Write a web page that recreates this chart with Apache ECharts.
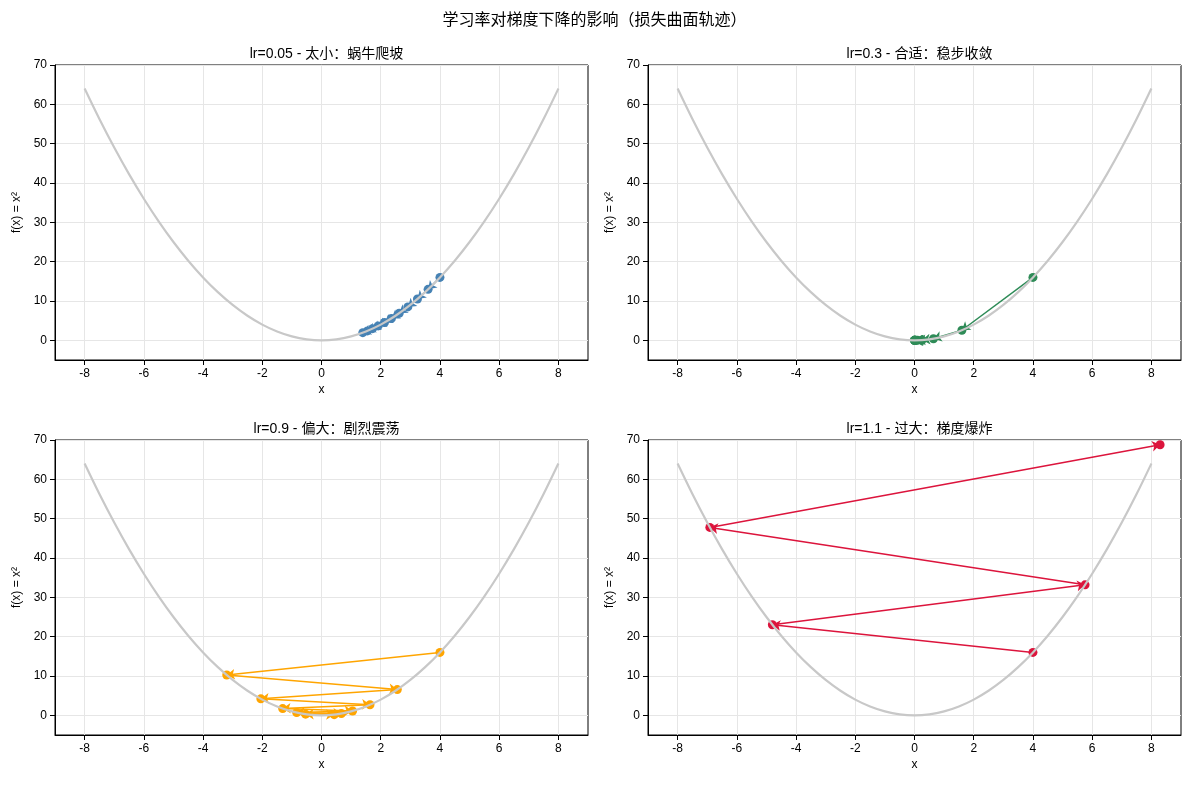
<!DOCTYPE html><html><head><meta charset="utf-8"><script src="https://cdn.jsdelivr.net/npm/echarts@6/dist/echarts.min.js"></script>
<style>body{margin:0}#c{width:1189px;height:788px}</style></head><body><div id="c"></div><script>
const curveX=[-8,-7.5,-7,-6.5,-6,-5.5,-5,-4.5,-4,-3.5,-3,-2.5,-2,-1.5,-1,-0.5,0,0.5,1,1.5,2,2.5,3,3.5,4,4.5,5,5.5,6,6.5,7,7.5,8];
const curveY=[64,56.25,49,42.25,36,30.25,25,20.25,16,12.25,9,6.25,4,2.25,1,0.25,0,0.25,1,2.25,4,6.25,9,12.25,16,20.25,25,30.25,36,42.25,49,56.25,64];
const titles=['lr=0.05 - 太小：蜗牛爬坡','lr=0.3 - 合适：稳步收敛','lr=0.9 - 偏大：剧烈震荡','lr=1.1 - 过大：梯度爆炸'];
const colors=['#4682b4','#2e8b57','#ffa500','#dc143c'];
const pathX=[
 [4,3.6,3.24,2.916,2.624,2.362,2.126,1.913,1.722,1.55,1.395],
 [4,1.6,0.64,0.256,0.102,0.041,0.016,0.007,0.003,0.001,0.0004],
 [4,-3.2,2.56,-2.048,1.638,-1.311,1.049,-0.839,0.671,-0.537,0.429],
 [4,-4.8,5.76,-6.912,8.294]
];
const pathY=[
 [16,12.96,10.5,8.5,6.89,5.58,4.52,3.66,2.97,2.40,1.95],
 [16,2.56,0.41,0.066,0.01,0.002,0,0,0,0,0],
 [16,10.24,6.55,4.19,2.68,1.72,1.10,0.70,0.45,0.29,0.18],
 [16,23.04,33.18,47.78,68.8]
];
const xTicks=[-8,-6,-4,-2,0,2,4,6,8];
const yTicks=[0,10,20,30,40,50,60,70];
const L=[55,648],T=[65,440],W=533,H=295;
const grid=[],xAxis=[],yAxis=[],series=[],title=[{text:'学习率对梯度下降的影响（损失曲面轨迹）',left:'center',top:8,textStyle:{fontSize:16,fontWeight:'normal',color:'#000'}}];
const f='Liberation Sans, Noto Sans CJK SC';
for(let i=0;i<4;i++){
 const l=L[i%2],t=T[Math.floor(i/2)];
 grid.push({left:l,top:t,width:W,height:H,show:true,borderColor:'#000',borderWidth:1,backgroundColor:'transparent'});
 title.push({text:titles[i],left:l+W/2,top:t-23,textAlign:'center',textStyle:{fontSize:14,fontWeight:'normal',color:'#000'}});
 xAxis.push({gridIndex:i,type:'value',min:-9,max:9,name:'x',nameLocation:'middle',nameGap:24,nameTextStyle:{color:'#000',fontSize:12},
  axisLine:{show:true,onZero:false,lineStyle:{color:'#000'}},axisTick:{show:true,customValues:xTicks,lineStyle:{color:'#000'}},
  axisLabel:{customValues:xTicks,color:'#000',fontSize:12},splitLine:{show:true,lineStyle:{color:'#e6e6e6'}}});
 yAxis.push({gridIndex:i,type:'value',min:-5,max:70,name:'f(x) = x²',nameLocation:'middle',nameGap:32,nameTextStyle:{color:'#000',fontSize:12},
  axisLine:{show:true,onZero:false,lineStyle:{color:'#000'}},axisTick:{show:true,customValues:yTicks,lineStyle:{color:'#000'}},
  axisLabel:{customValues:yTicks,color:'#000',fontSize:12},splitLine:{show:true,lineStyle:{color:'#e6e6e6'}}});
 series.push({type:'line',xAxisIndex:i,yAxisIndex:i,smooth:0.3,symbol:'none',data:curveX.map((x,k)=>[x,curveY[k]]),lineStyle:{color:'#c8c8c8',width:2.2},silent:true});
 const pts=pathX[i].map((x,k)=>[x,pathY[i][k]]);
 const segs=[];for(let k=0;k<pts.length-1;k++)segs.push({coords:[pts[k],pts[k+1]]});
 series.push({type:'lines',coordinateSystem:'cartesian2d',xAxisIndex:i,yAxisIndex:i,symbol:['none','arrow'],symbolSize:8,data:segs,lineStyle:{color:colors[i],width:1.5,opacity:1}});
 series.push({type:'scatter',xAxisIndex:i,yAxisIndex:i,symbolSize:9,data:pts,itemStyle:{color:colors[i],opacity:1}});
}
const ch=echarts.init(document.getElementById('c'));
ch.setOption({textStyle:{fontFamily:f},animation:false,title,grid,xAxis,yAxis,series});
</script></body></html>
